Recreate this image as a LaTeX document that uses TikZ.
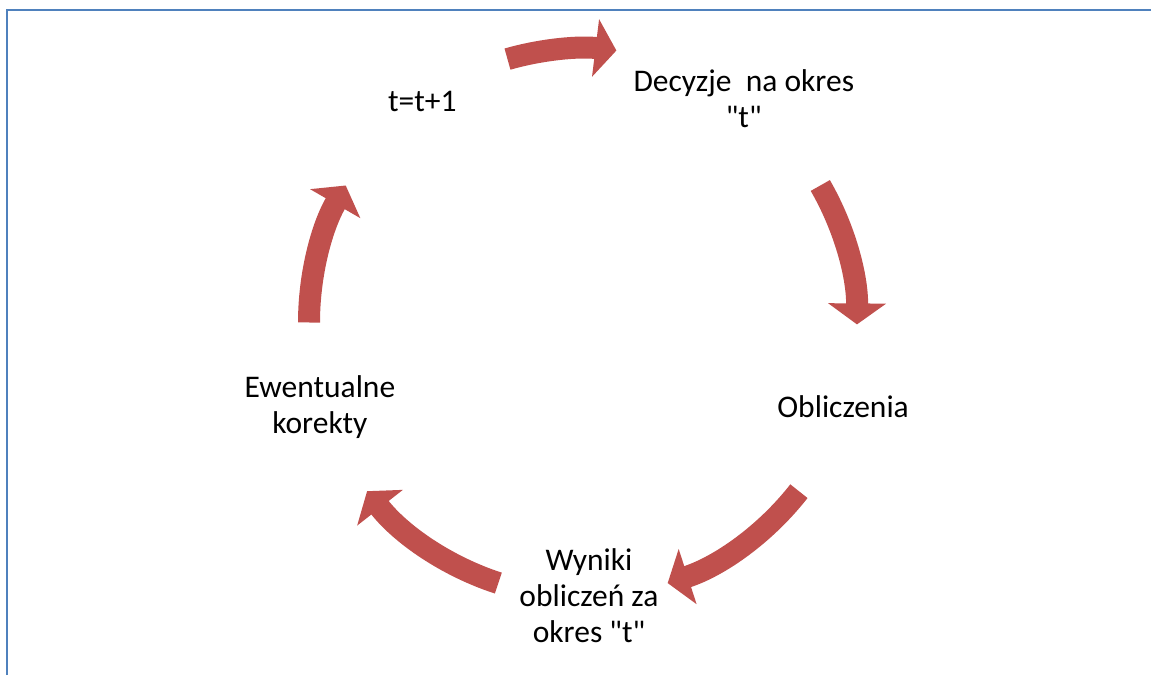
\documentclass[tikz,border=0pt]{standalone}
\usepackage{fontspec}
\setmainfont{Carlito}[Ligatures=TeXOff]
\usetikzlibrary{arrows.meta}
\definecolor{cyclered}{HTML}{C0504D}
\definecolor{frameblue}{HTML}{4F81BD}

\begin{document}
\begin{tikzpicture}[x=1pt,y=1pt]
      \useasboundingbox (0,0) rectangle (1151,675);
      \draw[frameblue,line width=2pt] (7,0) -- (7,665) -- (1151,665);
      \coordinate (O) at (583,352.5);
      \begin{scope}[shift={(O)},
        every node/.style={align=center,inner sep=0pt,
          font=\fontsize{31.5}{36}\selectfont}]
        \node (dec) at ([yshift=3pt]54:273.5) {Decyzje\ \ na okres\\"t"};
        \node (obl) at (-18:273.5) {Obliczenia};
        \node (wyn) at ([xshift=6pt]-90:273.5) {Wyniki\\oblicze\'n za\\okres "t"};
        \node (kor) at ([xshift=-3pt]198:273.5) {Ewentualne\\korekty};
        \node (nxt) at (126:273.5) {t=t+1};
      \end{scope}
      \begin{scope}[shift={(O)},
        every path/.style={draw=cyclered, line width=22pt,
          -{Triangle[width=57pt,length=21pt]}}]
        \path (106:274) arc[start angle=106, end angle=83, radius=274];
        \path (30:274) arc[start angle=30, end angle=-0.4, radius=274];
        \path (-38:274) arc[start angle=-38, end angle=-72, radius=274];
        \path (-108:274) arc[start angle=-108, end angle=-142, radius=274];
        \path (180:274) arc[start angle=180, end angle=150, radius=274];
      \end{scope}
    \end{tikzpicture}
\end{document}
